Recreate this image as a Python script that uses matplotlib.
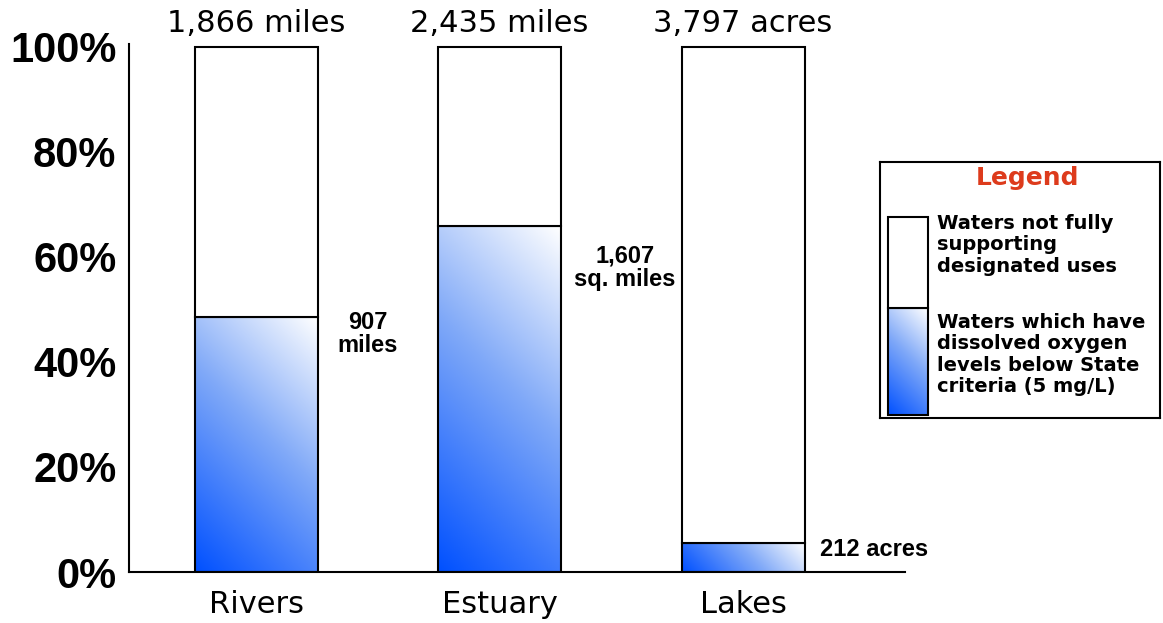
import numpy as np
import matplotlib
matplotlib.use("Agg")
import matplotlib.pyplot as plt
from matplotlib.colors import LinearSegmentedColormap
from matplotlib.patches import Rectangle

# Waterbody assessment data
categories = ["Rivers", "Estuary", "Lakes"]
total_sizes = [1866, 2435, 3797]
total_units = ["miles", "miles", "acres"]
low_do_sizes = [907, 1607, 212]
low_do_labels = ["907\nmiles", "1,607\nsq. miles", "212 acres"]
y_ticks = [0, 20, 40, 60, 80, 100]
y_tick_labels = ["0%", "20%", "40%", "60%", "80%", "100%"]
legend_title = "Legend"
legend_items = [
    "Waters not fully\nsupporting\ndesignated uses",
    "Waters which have\ndissolved oxygen\nlevels below State\ncriteria (5 mg/L)",
]

low_do_pct = [100.0 * a / b for a, b in zip(low_do_sizes, total_sizes)]

W, H, DPI = 1163, 623, 100
fig = plt.figure(figsize=(W / DPI, H / DPI), dpi=DPI, facecolor="white")

# main axes placed in pixel terms
ax_l, ax_r, ax_b, ax_t = 129, 905, 572, 44
ax = fig.add_axes([ax_l / W, 1 - ax_b / H, (ax_r - ax_l) / W, (ax_b - ax_t) / H])
XLIM = (-0.5216, 2.665)
YLIM = (0, 100.57)

blue_cmap = LinearSegmentedColormap.from_list(
    "low_do", [(0.0, "#0050FF"), (0.55, "#80A9F8"), (1.0, "#FFFFFF")]
)

bar_w = 0.505
x = np.arange(len(categories))
px_per_unit = (ax_r - ax_l) / (XLIM[1] - XLIM[0])
px_per_pct = (ax_b - ax_t) / (YLIM[1] - YLIM[0])


def gradient_fill(axis, x0, x1, y0, y1, w_px, h_px, zorder=2):
    n = 200
    u = np.linspace(0, 1, n)[None, :]
    v = np.linspace(0, 1, n)[:, None]
    t = (u * w_px + v * h_px) / (w_px + h_px)
    axis.imshow(t, cmap=blue_cmap, vmin=0, vmax=1, origin="lower",
                extent=[x0, x1, y0, y1], aspect="auto",
                interpolation="bilinear", zorder=zorder)


for xi, p in zip(x, low_do_pct):
    x0, x1 = xi - bar_w / 2, xi + bar_w / 2
    gradient_fill(ax, x0, x1, 0, p, bar_w * px_per_unit, p * px_per_pct)
    ax.bar(xi, p, width=bar_w, bottom=0, fill=False, edgecolor="black",
           linewidth=1.5, zorder=3)
    ax.bar(xi, 100 - p, width=bar_w, bottom=p, facecolor="white",
           edgecolor="black", linewidth=1.5, zorder=3)

ax.set_xlim(*XLIM)
ax.set_ylim(*YLIM)

# totals above each bar
for xi, n, unit in zip(x, total_sizes, total_units):
    ax.annotate(f"{n:,} {unit}", xy=(xi, 100), xytext=(0, 15),
                textcoords="offset pixels", ha="center", va="baseline",
                fontsize=22, family="DejaVu Sans", color="black")

# affected amounts beside each bar
side_offsets = [(50, 6, "center", "top"), (64, -19, "center", "top"),
                (15, -7, "left", "center")]
for xi, p, lab, (dx, dy, ha, va) in zip(x, low_do_pct, low_do_labels, side_offsets):
    ax.annotate(lab, xy=(xi + bar_w / 2, p), xytext=(dx, dy),
                textcoords="offset pixels", ha=ha, va=va, fontsize=17,
                fontweight="bold", family="Liberation Sans", linespacing=1.0,
                color="black")

ax.set_yticks(y_ticks)
ax.set_yticklabels(y_tick_labels, fontsize=30, fontweight="bold",
                   family="Liberation Sans")
ax.set_xticks(x)
ax.set_xticklabels(categories, fontsize=22, family="DejaVu Sans")
ax.tick_params(axis="y", length=0, pad=9)
ax.tick_params(axis="x", length=0, pad=13)
for s in ("top", "right"):
    ax.spines[s].set_visible(False)
for s in ("left", "bottom"):
    ax.spines[s].set_linewidth(1.5)

# legend panel in pixel coordinates
lx0, lx1, ly0, ly1 = 880, 1160, 162, 418
lg = fig.add_axes([lx0 / W, 1 - ly1 / H, (lx1 - lx0) / W, (ly1 - ly0) / H])
lg.set_xticks([])
lg.set_yticks([])
for s in lg.spines.values():
    s.set_linewidth(1.5)

lg.text((lx0 + lx1) / 2 + 7, 178, legend_title, ha="center", va="center",
        fontsize=18, fontweight="bold", color="#DD3B1C", family="DejaVu Sans")

gradient_fill(lg, 888, 928, 415, 308, 40, 107)
lg.add_patch(Rectangle((888, 308), 40, 107, fill=False, edgecolor="black",
                       linewidth=1.5, zorder=3))
lg.add_patch(Rectangle((888, 217), 40, 91, facecolor="white", edgecolor="black",
                       linewidth=1.5, zorder=3))
lg.set_xlim(lx0, lx1)
lg.set_ylim(ly1, ly0)

for txt, ytop in zip(legend_items, [214, 313]):
    lg.text(937, ytop, txt, ha="left", va="top", fontsize=14,
            fontweight="bold", family="DejaVu Sans", linespacing=1.15,
            color="black")

fig.savefig("out.png", dpi=DPI, facecolor="white")
